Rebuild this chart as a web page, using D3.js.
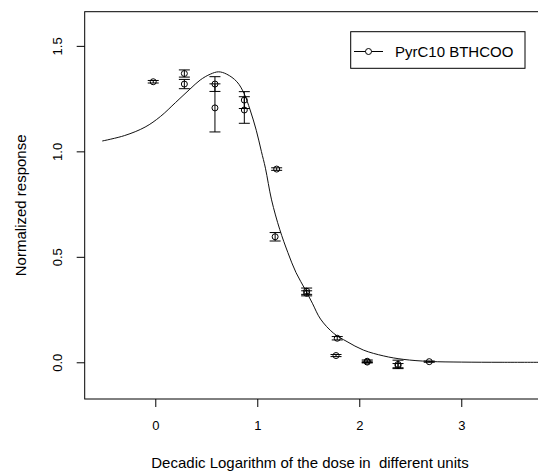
<!DOCTYPE html>
<html><head><meta charset="utf-8">
<script src="https://cdn.jsdelivr.net/npm/d3@7"></script>
<style>body{margin:0;background:#fff}svg{display:block}text{font-family:"Liberation Sans",Arial,sans-serif;fill:#000;white-space:pre}</style>
</head><body><div id="chart"></div>
<script>
// observed data: log10 dose, mean response, error (half-width)
const doseLog = [-0.02, 0.285, 0.285, 0.585, 0.585, 0.873, 0.873, 1.19, 1.175, 1.484, 1.484, 1.784, 1.772, 2.078, 2.078, 2.38, 2.38, 2.686];
const response = [1.33, 1.369, 1.319, 1.319, 1.206, 1.243, 1.196, 0.916, 0.595, 0.337, 0.327, 0.114, 0.032, 0.005, 0.001, -0.010, -0.016, 0.003];
const errHalf = [0.006, 0.017, 0.022, 0.035, 0.114, 0.04, 0.063, 0.006, 0.02, 0.015, 0.012, 0.008, 0.005, 0.006, 0.004, 0.02, 0.01, 0.003];
// fitted curve
const curveX = [-0.52, -0.3, -0.1, 0.05, 0.2, 0.34, 0.44, 0.54, 0.62, 0.70, 0.80, 0.87, 0.93, 0.99, 1.04, 1.08, 1.14, 1.22, 1.30, 1.38, 1.47, 1.54, 1.62, 1.75, 1.88, 2.04, 2.24, 2.43, 2.69, 3.0, 3.4, 3.8];
const curveY = [1.049, 1.075, 1.115, 1.165, 1.232, 1.295, 1.338, 1.366, 1.377, 1.366, 1.33, 1.275, 1.196, 1.10, 1.0, 0.92, 0.77, 0.63, 0.52, 0.425, 0.345, 0.28, 0.205, 0.137, 0.098, 0.058, 0.03, 0.014, 0.004, 0.001, 0.0, 0.0];
const xTicks = [0, 1, 2, 3];
const yTicks = [0.0, 0.5, 1.0, 1.5];
const seriesName = "PyrC10 BTHCOO";
const xTitle = "Decadic Logarithm of the dose in  different units";
const yTitle = "Normalized response";

const W = 538, H = 472;
const L = 84.7, R = 539, T = 11.7, B = 399;
const x = d3.scaleLinear().domain([-0.692, 3.762]).range([L, R]);
const y = d3.scaleLinear().domain([-0.174, 1.662]).range([B, T]);

const svg = d3.select("#chart").append("svg").attr("width", W).attr("height", H);

// box
svg.append("rect").attr("x", L).attr("y", T).attr("width", R - L).attr("height", B - T)
  .attr("fill", "none").attr("stroke", "#000").attr("stroke-width", 1);

// axes
const xa = svg.append("g").attr("transform", `translate(0,${B})`)
  .call(d3.axisBottom(x).tickValues(xTicks).tickSize(8).tickPadding(14).tickFormat(d3.format("d")));
xa.select(".domain").remove();
xa.selectAll("text").attr("font-size", 13).attr("font-family", "Liberation Sans, Arial, sans-serif");
xa.selectAll("line").attr("stroke", "#000");

const ya = svg.append("g").attr("transform", `translate(${L},0)`)
  .call(d3.axisLeft(y).tickValues(yTicks).tickSize(8).tickFormat(d3.format(".1f")));
ya.select(".domain").remove();
ya.selectAll("line").attr("stroke", "#000");
ya.selectAll("text").attr("font-size", 13).attr("font-family", "Liberation Sans, Arial, sans-serif")
  .attr("text-anchor", "middle").attr("dy", null).attr("x", null)
  .attr("transform", "translate(-23,0) rotate(-90)");

// titles
svg.append("text").attr("x", 310).attr("y", 468).attr("text-anchor", "middle")
  .attr("font-size", 15).text(xTitle);
svg.append("text").attr("transform", `translate(25.5,${(T + B) / 2}) rotate(-90)`).attr("text-anchor", "middle")
  .attr("font-size", 15).text(yTitle);

// clip
svg.append("clipPath").attr("id", "clip").append("rect").attr("x", L).attr("y", T).attr("width", R - L).attr("height", B - T);
const g = svg.append("g").attr("clip-path", "url(#clip)");

const curveData = curveX.map((d, i) => [d, curveY[i]]);
g.append("path").datum(curveData)
  .attr("d", d3.line().x(d => x(d[0])).y(d => y(d[1])).curve(d3.curveCatmullRom))
  .attr("fill", "none").attr("stroke", "#111").attr("stroke-width", 1);

const pts = doseLog.map((d, i) => ({x: d, y: response[i], e: errHalf[i]}));
const cap = 5.5;
const eb = g.append("g").attr("stroke", "#000").attr("stroke-width", 1);
pts.forEach(p => {
  const cx = x(p.x), y1 = y(p.y + p.e), y2 = y(p.y - p.e);
  eb.append("line").attr("x1", cx).attr("x2", cx).attr("y1", y1).attr("y2", y2);
  eb.append("line").attr("x1", cx - cap).attr("x2", cx + cap).attr("y1", y1).attr("y2", y1);
  eb.append("line").attr("x1", cx - cap).attr("x2", cx + cap).attr("y1", y2).attr("y2", y2);
});
g.selectAll("circle.pt").data(pts).enter().append("circle").attr("class", "pt")
  .attr("cx", d => x(d.x)).attr("cy", d => y(d.y)).attr("r", 3)
  .attr("fill", "none").attr("stroke", "#000").attr("stroke-width", 1);

// legend
const lg = svg.append("g");
lg.append("rect").attr("x", 350.7).attr("y", 31.7).attr("width", 525 - 350.7).attr("height", 68.3 - 31.7)
  .attr("fill", "#fff").attr("stroke", "#000");
lg.append("line").attr("x1", 354).attr("x2", 383).attr("y1", 51.5).attr("y2", 51.5).attr("stroke", "#000");
lg.append("circle").attr("cx", 368.5).attr("cy", 51.5).attr("r", 3).attr("fill", "#fff").attr("stroke", "#000");
lg.append("text").attr("x", 395).attr("y", 57).attr("font-size", 15).text(seriesName);
</script></body></html>
